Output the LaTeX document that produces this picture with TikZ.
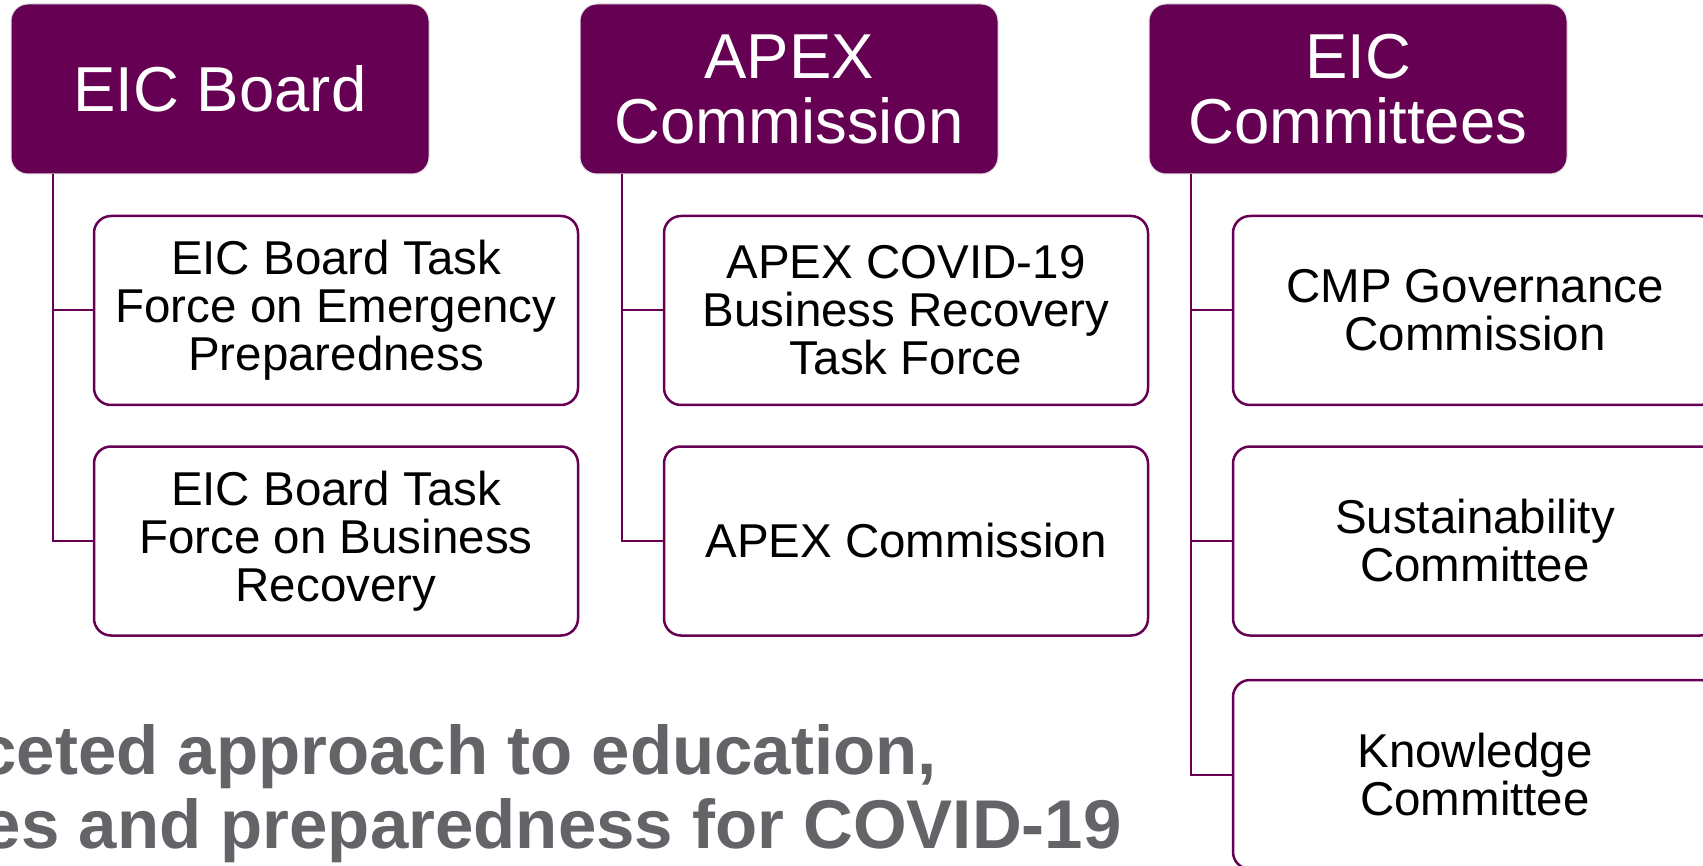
\documentclass[tikz,border=0pt]{standalone}
\usepackage{fontspec}
\setmainfont{Liberation Sans}
\definecolor{eicpurple}{RGB}{102,0,82}
\definecolor{eicgray}{RGB}{99,100,103}
\begin{document}
\begin{tikzpicture}[x=1pt,y=-1pt,
 headbox/.style={fill=eicpurple, draw=black!12, line width=1pt, rounded corners=17pt, minimum width=418pt, minimum height=170pt, text=white, align=center, font=\fontsize{63.5}{65}\selectfont, inner sep=0pt},
 childbox/.style={fill=white, draw=eicpurple, line width=2.5pt, rounded corners=17pt, minimum width=484pt, minimum height=189pt, align=center, font=\fontsize{47.5}{48}\selectfont, inner sep=0pt},
 conn/.style={draw=eicpurple, line width=2pt},
 bigtext/.style={text=eicgray, font=\bfseries\fontsize{69}{74}\selectfont, inner sep=0pt, anchor=base east}]
\useasboundingbox (0,0) rectangle (1703,866);
\clip (0,0) rectangle (1703,866);

\node[headbox] (h1) at (220,89) {EIC Board};
\node[headbox] (h2) at (789,89) {APEX\\Commission};
\node[headbox] (h3) at (1358,89) {EIC\\Committees};

\node[childbox] (c11) at (336,310.5) {EIC Board Task\\Force on Emergency\\Preparedness};
\node[childbox] (c12) at (336,541) {EIC Board Task\\Force on Business\\Recovery};
\node[childbox] (c21) at (906,310.5) {APEX COVID-19\\Business Recovery\\Task Force};
\node[childbox] (c22) at (906,541) {APEX Commission};
\node[childbox] (c31) at (1475,310.5) {CMP Governance\\Commission};
\node[childbox] (c32) at (1475,541) {Sustainability\\Committee};
\node[childbox] (c33) at (1475,774.5) {Knowledge\\Committee};

\coordinate (t1) at (53,174);
\coordinate (t2) at (622,174);
\coordinate (t3) at (1191,174);
\draw[conn] (t1) |- (c11.west);
\draw[conn] (t1) |- (c12.west);
\draw[conn] (t2) |- (c21.west);
\draw[conn] (t2) |- (c22.west);
\draw[conn] (t3) |- (c31.west);
\draw[conn] (t3) |- (c32.west);
\draw[conn] (t3) |- (c33.west);

\node[bigtext] (l1) at (937,774) {ceted approach to education,};
\node[bigtext] (l2) at (1122,848) {es and preparedness for COVID-19};
\end{tikzpicture}
\end{document}
